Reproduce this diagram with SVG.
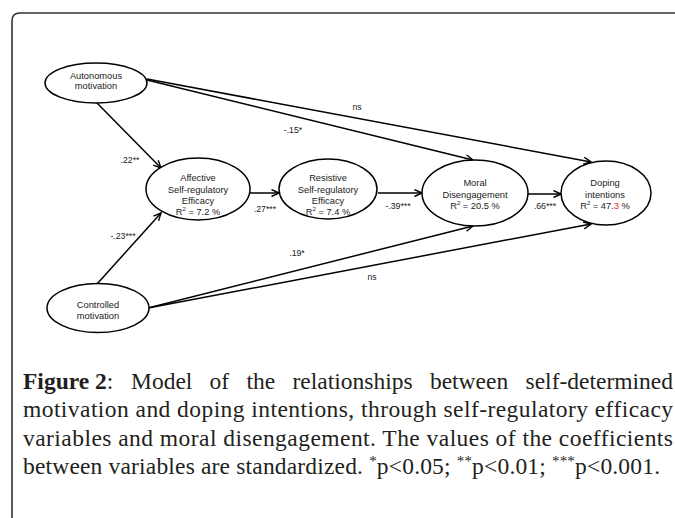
<svg xmlns="http://www.w3.org/2000/svg" width="675" height="518" viewBox="0 0 675 518">
<defs>
<marker id="arr" markerWidth="10" markerHeight="10" refX="8" refY="4" orient="auto" markerUnits="userSpaceOnUse">
<path d="M0.5,0.5 L8,4 L0.5,7.5" fill="none" stroke="#000" stroke-width="1.4"/>
</marker>
<style>
.node ellipse{fill:#fff;stroke:#000;stroke-width:1.5}
.nt{font-family:"Liberation Sans",Arial,sans-serif;font-size:9.3px;fill:#222;text-anchor:middle}
.lb{font-family:"Liberation Sans",Arial,sans-serif;font-size:8.7px;fill:#222;text-anchor:middle}
.edge{stroke:#000;stroke-width:1.5;fill:none;marker-end:url(#arr)}
.cap{font-family:"Liberation Serif","Times New Roman",serif;font-size:23.5px;fill:#231f20}
.sup{font-size:6px}
.sa{font-size:15px}
</style>
</defs>
<rect width="675" height="518" fill="#fff"/>
<path d="M12,518 L12,21 Q12,13 20,13 L675,13" fill="none" stroke="#333" stroke-width="1.6"/>

<g id="connectors">
<line class="edge" x1="97" y1="103" x2="161" y2="168"/>
<line class="edge" x1="147" y1="80" x2="473" y2="160"/>
<line class="edge" x1="147" y1="79" x2="591" y2="162"/>
<line class="edge" x1="97" y1="284" x2="161" y2="213"/>
<line class="edge" x1="148" y1="308" x2="473" y2="226"/>
<line class="edge" x1="148" y1="308" x2="591" y2="224"/>
<line class="edge" x1="250" y1="193" x2="279" y2="193"/>
<line class="edge" x1="378" y1="193" x2="422" y2="193"/>
<line class="edge" x1="528" y1="194" x2="561" y2="194"/>
<text class="lb" x="130" y="163">.22**</text>
<text class="lb" x="293" y="133">-.15*</text>
<text class="lb" x="357" y="110">ns</text>
<text class="lb" x="265" y="212">.27***</text>
<text class="lb" x="398" y="209">-.39***</text>
<text class="lb" x="545" y="209">.66***</text>
<text class="lb" x="123" y="239">-.23***</text>
<text class="lb" x="297" y="256">.19*</text>
<text class="lb" x="372" y="280">ns</text>
</g>

<g id="autonomous" class="node">
<ellipse cx="96" cy="83" rx="51" ry="20"/>
<text class="nt" x="96" y="78.5">Autonomous</text>
<text class="nt" x="96" y="89">motivation</text>
</g>
<g id="controlled" class="node">
<ellipse cx="98" cy="308" rx="51" ry="24.5"/>
<text class="nt" x="98" y="307.5">Controlled</text>
<text class="nt" x="98" y="319">motivation</text>
</g>
<g id="affective" class="node">
<ellipse cx="198" cy="189" rx="52" ry="31"/>
<text class="nt" x="198" y="181">Affective</text>
<text class="nt" x="198" y="192.5">Self-regulatory</text>
<text class="nt" x="198" y="204">Efficacy</text>
<text class="nt" x="198" y="214.5">R<tspan class="sup" dy="-3.5">2</tspan><tspan dy="3.5"> = 7.2 %</tspan></text>
</g>
<g id="resistive" class="node">
<ellipse cx="328" cy="189" rx="49" ry="30"/>
<text class="nt" x="328" y="181">Resistive</text>
<text class="nt" x="328" y="192.5">Self-regulatory</text>
<text class="nt" x="328" y="204">Efficacy</text>
<text class="nt" x="328" y="214.5">R<tspan class="sup" dy="-3.5">2</tspan><tspan dy="3.5"> = 7.4 %</tspan></text>
</g>
<g id="moral" class="node">
<ellipse cx="475" cy="193" rx="53" ry="33"/>
<text class="nt" x="475" y="186">Moral</text>
<text class="nt" x="475" y="197.5">Disengagement</text>
<text class="nt" x="475" y="208.5">R<tspan class="sup" dy="-3.5">2</tspan><tspan dy="3.5"> = 20.5 %</tspan></text>
</g>
<g id="doping" class="node">
<ellipse cx="606" cy="193" rx="45" ry="32"/>
<text class="nt" x="605" y="186">Doping</text>
<text class="nt" x="605" y="197.5">intentions</text>
<text class="nt" x="605" y="208.5">R<tspan class="sup" dy="-3.5">2</tspan><tspan dy="3.5"> = 47.</tspan><tspan fill="#e0262b">3</tspan><tspan> %</tspan></text>
</g>

<g id="caption">
<text class="cap" y="388.5"><tspan x="23" font-weight="bold">Figure 2</tspan><tspan>:</tspan><tspan x="131">Model</tspan><tspan x="209.6">of</tspan><tspan x="246.5">the</tspan><tspan x="292.5">relationships</tspan><tspan x="429.9">between</tspan><tspan x="673" text-anchor="end">self-determined</tspan></text>
<text class="cap" x="23" y="417" textLength="650" lengthAdjust="spacing">motivation and doping intentions, through self-regulatory efficacy</text>
<text class="cap" x="23" y="445.5" textLength="650" lengthAdjust="spacing">variables and moral disengagement. The values of the coefficients</text>
<text class="cap" x="23" y="474" textLength="637" lengthAdjust="spacing">between variables are standardized. <tspan class="sa" dy="-8">*</tspan><tspan dy="8">p&lt;0.05; </tspan><tspan class="sa" dy="-8">**</tspan><tspan dy="8">p&lt;0.01; </tspan><tspan class="sa" dy="-8">***</tspan><tspan dy="8">p&lt;0.001.</tspan></text>
</g>
</svg>
